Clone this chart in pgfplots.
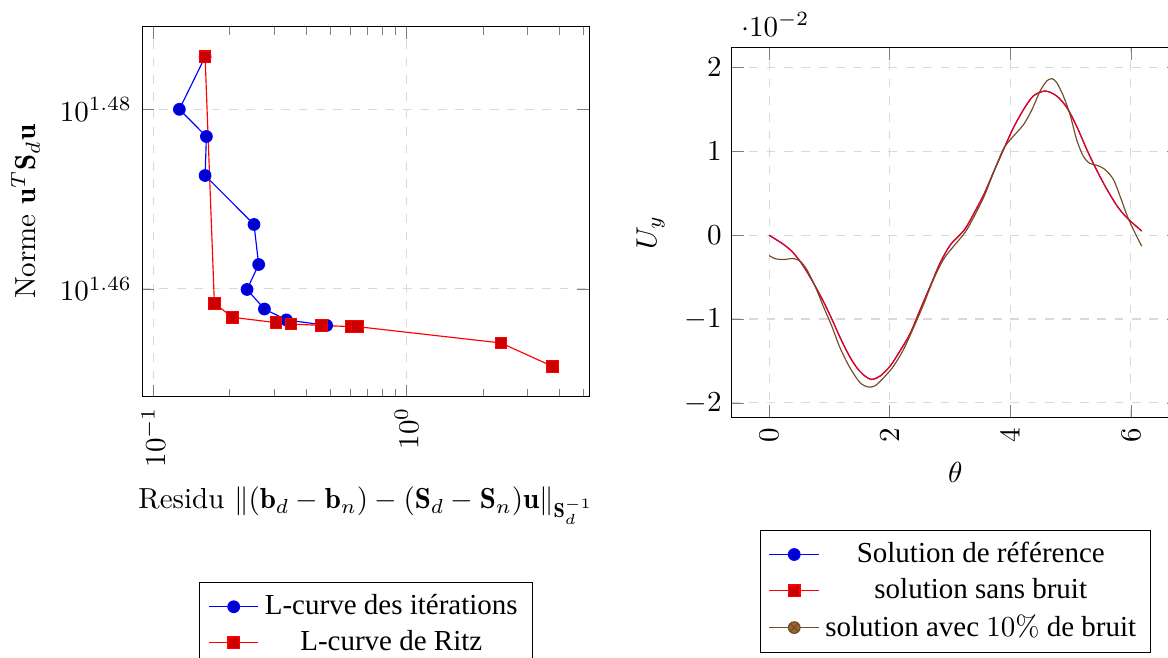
\documentclass[border=0pt]{standalone}
\usepackage{fontspec}
\usepackage{amsmath}
\usepackage{pgfplots}
\pgfplotsset{compat=1.18}
\newfontfamily\legfont{Liberation Serif}

\pgfplotsset{
  refstyle/.style={blue, mark=*, mark options={fill=blue!80!black}},
  ritzstyle/.style={red, mark=square*, mark options={fill=red!80!black}},
  noisestyle/.style={brown!60!black, mark=otimes*, mark options={fill=brown!80!black}},
}

\begin{document}
\begin{tikzpicture}
\useasboundingbox (0,0) rectangle (402.8pt,-226.6pt);
\clip (0,0) rectangle (402.8pt,-226.6pt);

% L-curve
\begin{axis}[
    at={(49pt,-136.9pt)}, anchor=south west,
    scale only axis, width=154.4pt, height=127.7pt,
    xmode=log, ymode=log,
    xmin=0.0902, xmax=5.29, ymin=28.05, ymax=30.85,
    xtick={0.1,1}, xticklabels={$10^{-1}$,$10^{0}$},
    minor xtick={0.2,0.3,0.4,0.5,0.6,0.7,0.8,0.9,2,3,4,5},
    ytick={28.8403,30.1995}, yticklabels={$10^{1.46}$,$10^{1.48}$},
    minor ytick={},
    xticklabel style={rotate=90, anchor=east},
    grid=major, grid style={dashed, gray!30},
    xlabel={Residu $\|(\mathbf{b}_d-\mathbf{b}_n)-(\mathbf{S}_d-\mathbf{S}_n)\mathbf{u}\|_{\mathbf{S}_d^{-1}}$},
    ylabel={Norme $\mathbf{u}^T\mathbf{S}_d\mathbf{u}$},
    legend style={at={(0.5,-0.501)}, anchor=north, font=\legfont},
    legend cell align=center,
]
\addplot[refstyle] coordinates {
  (0.160,30.61) (0.1266,30.20) (0.1619,29.99) (0.160,29.69) (0.2496,29.32)
  (0.2604,29.02) (0.2343,28.835) (0.2744,28.69) (0.3350,28.61) (0.4832,28.57)
};
\addlegendentry{L-curve des itérations}
\addplot[ritzstyle] coordinates {
  (0.160,30.61) (0.1741,28.73) (0.2056,28.63) (0.3049,28.59) (0.3495,28.58)
  (0.4619,28.57) (0.6066,28.56) (0.6405,28.56) (2.357,28.44) (3.770,28.27)
};
\addlegendentry{L-curve de Ritz}
\end{axis}

% deplacement U_y
\begin{axis}[
    at={(252.4pt,-144.1pt)}, anchor=south west,
    scale only axis, width=154.2pt, height=127.6pt,
    xmin=-0.618, xmax=6.798, ymin=-0.02178, ymax=0.02235,
    xtick={0,2,4,6}, ytick={-0.02,-0.01,0,0.01,0.02},
    xticklabel style={rotate=90, anchor=east},
    grid=major, grid style={dashed, gray!30},
    xlabel={$\theta$}, ylabel={$U_y$},
    legend style={at={(0.5,-0.303)}, anchor=north, font=\legfont},
    legend cell align=center,
]
\addlegendimage{refstyle}
\addlegendentry{Solution de référence}
\addlegendimage{ritzstyle}
\addlegendentry{solution sans bruit}
\addlegendimage{noisestyle}
\addlegendentry{solution avec $10\%$ de bruit}
\addplot[blue, smooth, forget plot] coordinates {
  (0,0.0000) (0.24,-0.0011) (0.40,-0.0021) (0.57,-0.0037) (0.735,-0.0057)
  (0.90,-0.0079) (1.04,-0.0100) (1.177,-0.0122) (1.315,-0.0142) (1.454,-0.0158)
  (1.59,-0.0168) (1.70,-0.0172) (1.84,-0.0168) (2.007,-0.0156) (2.17,-0.0138)
  (2.34,-0.0117) (2.504,-0.0089) (2.67,-0.0061) (2.836,-0.0033) (3.0,-0.0012)
  (3.17,0.0001) (3.28,0.0011) (3.55,0.0047) (3.72,0.0075) (3.886,0.0102)
  (4.05,0.0128) (4.22,0.0150) (4.38,0.0166) (4.577,0.0172) (4.77,0.0166)
  (4.94,0.0152) (5.10,0.0130) (5.27,0.0102) (5.43,0.0078) (5.60,0.0055)
  (5.77,0.0035) (5.93,0.0021) (6.18,0.0005)
};
\addplot[red, smooth, forget plot] coordinates {
  (0,0.0000) (0.24,-0.0011) (0.40,-0.0021) (0.57,-0.0037) (0.735,-0.0057)
  (0.90,-0.0079) (1.04,-0.0100) (1.177,-0.0122) (1.315,-0.0142) (1.454,-0.0158)
  (1.59,-0.0168) (1.70,-0.0172) (1.84,-0.0168) (2.007,-0.0156) (2.17,-0.0138)
  (2.34,-0.0117) (2.504,-0.0089) (2.67,-0.0061) (2.836,-0.0033) (3.0,-0.0012)
  (3.17,0.0001) (3.28,0.0011) (3.55,0.0047) (3.72,0.0075) (3.886,0.0102)
  (4.05,0.0128) (4.22,0.0150) (4.38,0.0166) (4.577,0.0172) (4.77,0.0166)
  (4.94,0.0152) (5.10,0.0130) (5.27,0.0102) (5.43,0.0078) (5.60,0.0055)
  (5.77,0.0035) (5.93,0.0021) (6.18,0.0005)
};
\addplot[brown!60!black, smooth, forget plot] coordinates {
  (0,-0.00242) (0.1,-0.0028) (0.238,-0.0029) (0.40,-0.00278) (0.514,-0.0031)
  (0.625,-0.0041) (0.763,-0.0061) (0.90,-0.0085) (1.04,-0.01087) (1.177,-0.01345)
  (1.343,-0.01584) (1.51,-0.0176) (1.647,-0.0181) (1.758,-0.01795) (1.895,-0.01703)
  (2.06,-0.01564) (2.227,-0.01365) (2.393,-0.01106) (2.56,-0.00827) (2.725,-0.00529)
  (2.89,-0.0029) (3.06,-0.00131) (3.28,0.00067) (3.55,0.0044) (3.72,0.00745)
  (3.886,0.0103) (4.05,0.0118) (4.22,0.0132) (4.36,0.0150) (4.494,0.0172)
  (4.605,0.0184) (4.69,0.01867) (4.77,0.0182) (4.88,0.0166) (4.99,0.0144)
  (5.10,0.0114) (5.21,0.00943) (5.32,0.00856) (5.43,0.00836) (5.57,0.00784)
  (5.71,0.00665) (5.82,0.00466) (5.93,0.00247) (6.04,0.00068) (6.18,-0.00131)
};
\end{axis}
\end{tikzpicture}
\end{document}
